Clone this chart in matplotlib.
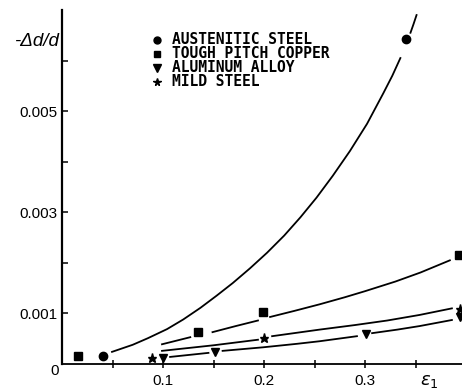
import numpy as np
import matplotlib
matplotlib.use("Agg")
import matplotlib.pyplot as plt
from matplotlib.ticker import FixedLocator, NullFormatter

nan = np.nan

# Measured points: true strain eps_1 vs. relative diameter change -Δd/d
aus_x = [0.041, 0.341]
aus_y = [0.00016, 0.00643]
cu_x = [0.016, 0.135, 0.199, 0.393]
cu_y = [0.00016, 0.00063, 0.00103, 0.00215]
al_x = [0.100, 0.151, 0.301, 0.394]
al_y = [0.00012, 0.00024, 0.00059, 0.00093]
ms_x = [0.089, 0.200, 0.394]
ms_y = [0.00012, 0.00051, 0.00108]

# Fitted trend curves (NaN breaks the line where it passes a marker)
aus_curve_x = [0.0495, 0.070, 0.085, 0.104, 0.120, 0.137, 0.153, 0.169, 0.186,
               0.203, 0.220, 0.236, 0.252, 0.268, 0.285, 0.302, 0.318, 0.327,
               0.335, nan, 0.345, 0.348, 0.351]
aus_curve_y = [0.00024, 0.00038, 0.00051, 0.00069, 0.00088, 0.00111, 0.00135,
               0.00160, 0.00189, 0.00220, 0.00254, 0.00290, 0.00329, 0.00372,
               0.00421, 0.00475, 0.00535, 0.00570, 0.00605, nan, 0.00655,
               0.00672, 0.00690]
cu_curve_x = [0.099, 0.127, nan, 0.149, 0.172, 0.194, nan, 0.206, 0.230, 0.255,
              0.280, 0.300, 0.330, 0.355, 0.384]
cu_curve_y = [0.00039, 0.00053, nan, 0.00063, 0.00075, 0.00086, nan, 0.00093,
              0.00105, 0.00118, 0.00132, 0.00144, 0.00163, 0.00181, 0.00205]
ms_curve_x = [0.099, 0.150, 0.194, nan, 0.208, 0.255, 0.290, 0.322, 0.354, 0.386]
ms_curve_y = [0.00026, 0.00037, 0.00048, nan, 0.00055, 0.00068, 0.00077,
              0.00086, 0.00097, 0.00110]
al_curve_x = [0.107, 0.145, nan, 0.159, 0.199, 0.233, 0.255, 0.292, nan, 0.307,
              0.332, 0.354, 0.386]
al_curve_y = [0.00014, 0.00022, nan, 0.00026, 0.00033, 0.00040, 0.00045,
              0.00055, nan, 0.00061, 0.00068, 0.00075, 0.00087]

series_labels = ["AUSTENITIC STEEL", "TOUGH PITCH COPPER", "ALUMINUM ALLOY", "MILD STEEL"]

x_major = [0.1, 0.2, 0.3]
x_major_labels = ["0.1", "0.2", "0.3"]
x_minor = [0.05, 0.15, 0.25, 0.35]
y_major = [0.001, 0.003, 0.005]
y_major_labels = ["0.001", "0.003", "0.005"]
y_minor = [0.002, 0.004, 0.006]

W, H = 462, 390
fig = plt.figure(figsize=(W / 100, H / 100), dpi=100)
ax_l, ax_r, ax_t, ax_b = 62, 462, 10, 364
ax = fig.add_axes([ax_l / W, 1 - ax_b / H, (ax_r - ax_l) / W, (ax_b - ax_t) / H])
ax.set_xlim(0, 0.396)
ax.set_ylim(0, 0.007)

for s in ("top", "right"):
    ax.spines[s].set_visible(False)
ax.spines["left"].set_linewidth(1.6)
ax.spines["bottom"].set_linewidth(1.3)

tick_font = dict(family="Liberation Sans", size=11)
ax.xaxis.set_major_locator(FixedLocator(x_major))
ax.xaxis.set_minor_locator(FixedLocator(x_minor))
ax.set_xticklabels(x_major_labels, fontdict=tick_font)
ax.xaxis.set_minor_formatter(NullFormatter())
ax.yaxis.set_major_locator(FixedLocator(y_major))
ax.yaxis.set_minor_locator(FixedLocator(y_minor))
ax.set_yticklabels(y_major_labels, fontdict=tick_font)
ax.tick_params(axis="x", which="both", direction="inout", length=6, width=1.1, pad=4)
ax.tick_params(axis="y", which="both", direction="in", length=4.5, width=1.1, pad=3)

lw = 1.3
for cx, cy in ((aus_curve_x, aus_curve_y), (cu_curve_x, cu_curve_y),
               (ms_curve_x, ms_curve_y), (al_curve_x, al_curve_y)):
    ax.plot(cx, cy, color="black", lw=lw, solid_joinstyle="round")

mk = dict(color="black", linestyle="none", clip_on=False)
ax.plot(aus_x, aus_y, marker="o", ms=6, **mk)
ax.plot(cu_x, cu_y, marker="s", ms=5.5, **mk)
ax.plot(al_x, al_y, marker="v", ms=6, **mk)
ax.plot(ms_x, ms_y, marker="*", ms=6.5, **mk)

# Legend block drawn by hand
leg_markers = [("o", 5), ("s", 4.8), ("v", 5.2), ("*", 5.5)]
leg_rows = [39.5, 53.5, 67.5, 81.5]
mx, tx = 157, 172
for (m, ms), lab, ry in zip(leg_markers, series_labels, leg_rows):
    fy = (ax_b - ry) / (ax_b - ax_t)
    ax.plot([(mx - ax_l) / (ax_r - ax_l)], [fy], marker=m, ms=ms, color="black",
            linestyle="none", transform=ax.transAxes, clip_on=False)
    ax.text((tx - ax_l) / (ax_r - ax_l), fy, lab, transform=ax.transAxes,
            ha="left", va="center", family="DejaVu Sans Mono", weight="bold",
            size=10.5)

# Axis captions
ax.text(-0.007, -0.0, "0", transform=ax.get_xaxis_transform(), ha="center",
        va="top", **tick_font)
fig.text(59 / W, 1 - 42 / H, "-Δd/d", ha="right", va="center",
         family="Liberation Sans", style="italic", size=13.5)
fig.text(429 / W, 1 - 381 / H, "$\\varepsilon_1$", ha="center", va="center",
         fontsize=13, math_fontfamily="dejavusans")

fig.savefig("out.png", dpi=100, facecolor="white")
